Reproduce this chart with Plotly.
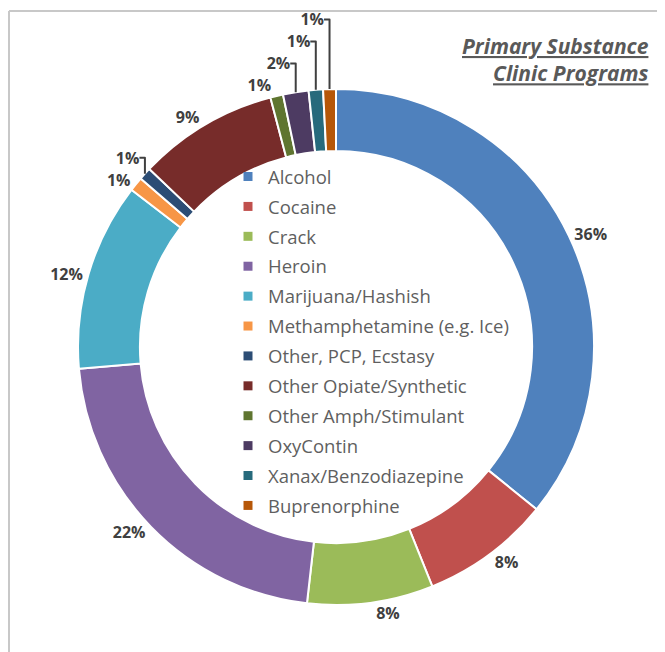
import plotly.graph_objects as go

categories = ["Alcohol", "Cocaine", "Crack", "Heroin", "Marijuana/Hashish",
              "Methamphetamine (e.g. Ice)", "Other, PCP, Ecstasy",
              "Other Opiate/Synthetic", "Other Amph/Stimulant", "OxyContin",
              "Xanax/Benzodiazepine", "Buprenorphine"]
values = [35.9, 8.1, 7.9, 21.9, 11.8, 0.9, 0.8, 8.8, 0.8, 1.6, 0.9, 0.8]
colors = ["#4F81BD", "#C0504D", "#9BBB59", "#8064A2", "#4BACC6", "#F79646",
          "#2C4D75", "#772C2A", "#5F7530", "#4D3B62", "#276A7C", "#B65708"]

W, H = 665, 652
OFF = 8  # default page body margin
cx, cy, r = 336 - OFF, 347 - OFF, 258

fig = go.Figure()
fig.add_trace(go.Pie(
    labels=categories, values=values, sort=False, direction="clockwise",
    rotation=0, hole=0.76,
    marker=dict(colors=colors, line=dict(color="white", width=2)),
    textposition="outside", texttemplate="%{percent:.0%}",
    textfont=dict(family="Open Sans", size=16, color="#404040", weight="bold"),
    showlegend=False,
    domain=dict(x=[(cx - r) / W, (cx + r) / W], y=[1 - (cy + r) / H, 1 - (cy - r) / H]),
))
for i, (c, col) in enumerate(zip(categories, colors)):
    fig.add_trace(go.Scatter(
        x=[None], y=[None], mode="markers", name=c, legendgroup=str(i),
        marker=dict(symbol="square", size=9, color=col), showlegend=True,
    ))

fig.update_layout(
    width=W, height=H, margin=dict(l=0, r=0, t=0, b=0, autoexpand=False),
    paper_bgcolor="white", plot_bgcolor="rgba(0,0,0,0)",
    xaxis=dict(visible=False), yaxis=dict(visible=False),
    legend=dict(x=(228 - OFF) / W, y=1 - (158 - OFF) / H, xanchor="left", yanchor="top",
                font=dict(family="Open Sans", size=18.5, color="#5f5f5f"),
                tracegroupgap=2.85, itemwidth=30, bgcolor="rgba(0,0,0,0)"),
    annotations=[dict(
        text="<b><i><u>Primary Substance</u></i></b><br><b><i><u>Clinic Programs</u></i></b>",
        x=(651 - OFF) / W, y=1 - (30 - OFF) / H, xref="paper", yref="paper",
        xanchor="right", yanchor="top", align="right", showarrow=False,
        font=dict(family="Open Sans", size=21, color="#595959"))],
    shapes=[
        dict(type="line", xref="paper", yref="paper",
             x0=(9 - OFF) / W, x1=1.0, y0=1 - (11 - OFF) / H, y1=1 - (11 - OFF) / H,
             line=dict(color="#C8C8C8", width=2), layer="above"),
        dict(type="line", xref="paper", yref="paper",
             x0=(9 - OFF) / W, x1=(9 - OFF) / W, y0=0, y1=1 - (11 - OFF) / H,
             line=dict(color="#C8C8C8", width=2), layer="above"),
    ],
)
fig.write_html("out.html", config={"displayModeBar": False})
